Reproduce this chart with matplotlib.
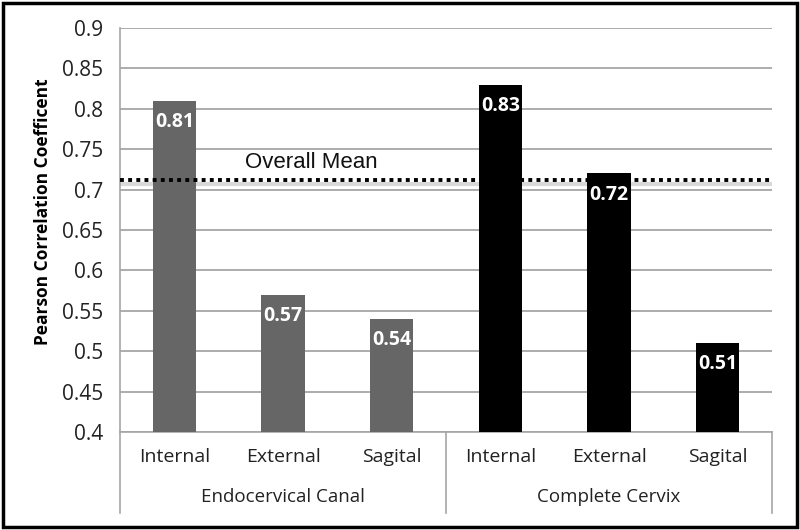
import matplotlib
matplotlib.use("Agg")
import matplotlib.pyplot as plt
from matplotlib.patches import Rectangle

categories = ["Internal", "External", "Sagital", "Internal", "External", "Sagital"]
groups = ["Endocervical Canal", "Complete Cervix"]
values = [0.81, 0.57, 0.54, 0.83, 0.72, 0.51]
colors = ["#666666"] * 3 + ["#000000"] * 3
overall_mean = 0.712
yticks = [0.4, 0.45, 0.5, 0.55, 0.6, 0.65, 0.7, 0.75, 0.8, 0.85, 0.9]
ytick_labels = ["0.4", "0.45", "0.5", "0.55", "0.6", "0.65", "0.7", "0.75", "0.8", "0.85", "0.9"]

plt.rcParams['font.family'] = ['Open Sans', 'DejaVu Sans']

fig = plt.figure(figsize=(8, 5.3), dpi=100)
ax = fig.add_axes([0.15, 0.185, 0.815, 0.762])

x = list(range(len(values)))
ax.set_xlim(-0.5, len(values) - 0.5)
ax.set_ylim(0.4, 0.9)
ax.set_yticks(yticks)
ax.set_yticklabels(ytick_labels, fontsize=15, color="#222222")
ax.yaxis.grid(True, color="#a6a6a6", lw=1.3, zorder=0)
ax.set_axisbelow(True)
ax.tick_params(axis='y', length=0, pad=12)
ax.set_xticks([])
for s in ["top", "right"]:
    ax.spines[s].set_visible(False)
ax.spines["left"].set_color("#a6a6a6")
ax.spines["bottom"].set_color("#a6a6a6")
ax.spines["left"].set_linewidth(1.2)
ax.spines["bottom"].set_linewidth(1.2)

# overall mean line (shadow under bars, dots above)
ax.axhline(overall_mean - 0.005, color="#d9d9d9", lw=3, zorder=1)
ax.bar(x, [v - 0.4 for v in values], bottom=0.4, width=0.4, color=colors, zorder=3)
ax.axhline(overall_mean, color="black", lw=2.8, linestyle=(0, (1, 1.1)), zorder=4)
ax.text(1.26, overall_mean + 0.009, "Overall Mean", ha="center", va="bottom",
        fontsize=16, family=["Liberation Sans", "DejaVu Sans"], color="#111111", zorder=5)

for xi, v in zip(x, values):
    ax.text(xi, v - 0.014, f"{v:.2f}", ha="center", va="top", color="white",
            fontsize=14, fontweight="bold", zorder=5)

ax.set_ylabel("Pearson Correlation Coefficent", fontsize=12.5, fontweight="bold", labelpad=14)
ax.yaxis.set_label_coords(-0.105, 0.545)

# category labels
for xi, c in zip(x, categories):
    ax.text(xi, -0.04, c, transform=ax.get_xaxis_transform(), ha="center", va="top",
            fontsize=14, color="#222222")
for gi, g in enumerate(groups):
    ax.text(gi * 3 + 1, -0.14, g, transform=ax.get_xaxis_transform(), ha="center", va="top",
            fontsize=13.5, color="#222222")
for xs in [-0.5, 2.5, 5.5]:
    ax.plot([xs, xs], [0, -0.2], transform=ax.get_xaxis_transform(), color="#a6a6a6",
            lw=1.2, clip_on=False)

fig.patches.append(Rectangle((0.004, 0.006), 0.992, 0.988, transform=fig.transFigure,
                             fill=False, edgecolor="black", lw=2.5))

fig.savefig("out.png", dpi=100, facecolor="white")
